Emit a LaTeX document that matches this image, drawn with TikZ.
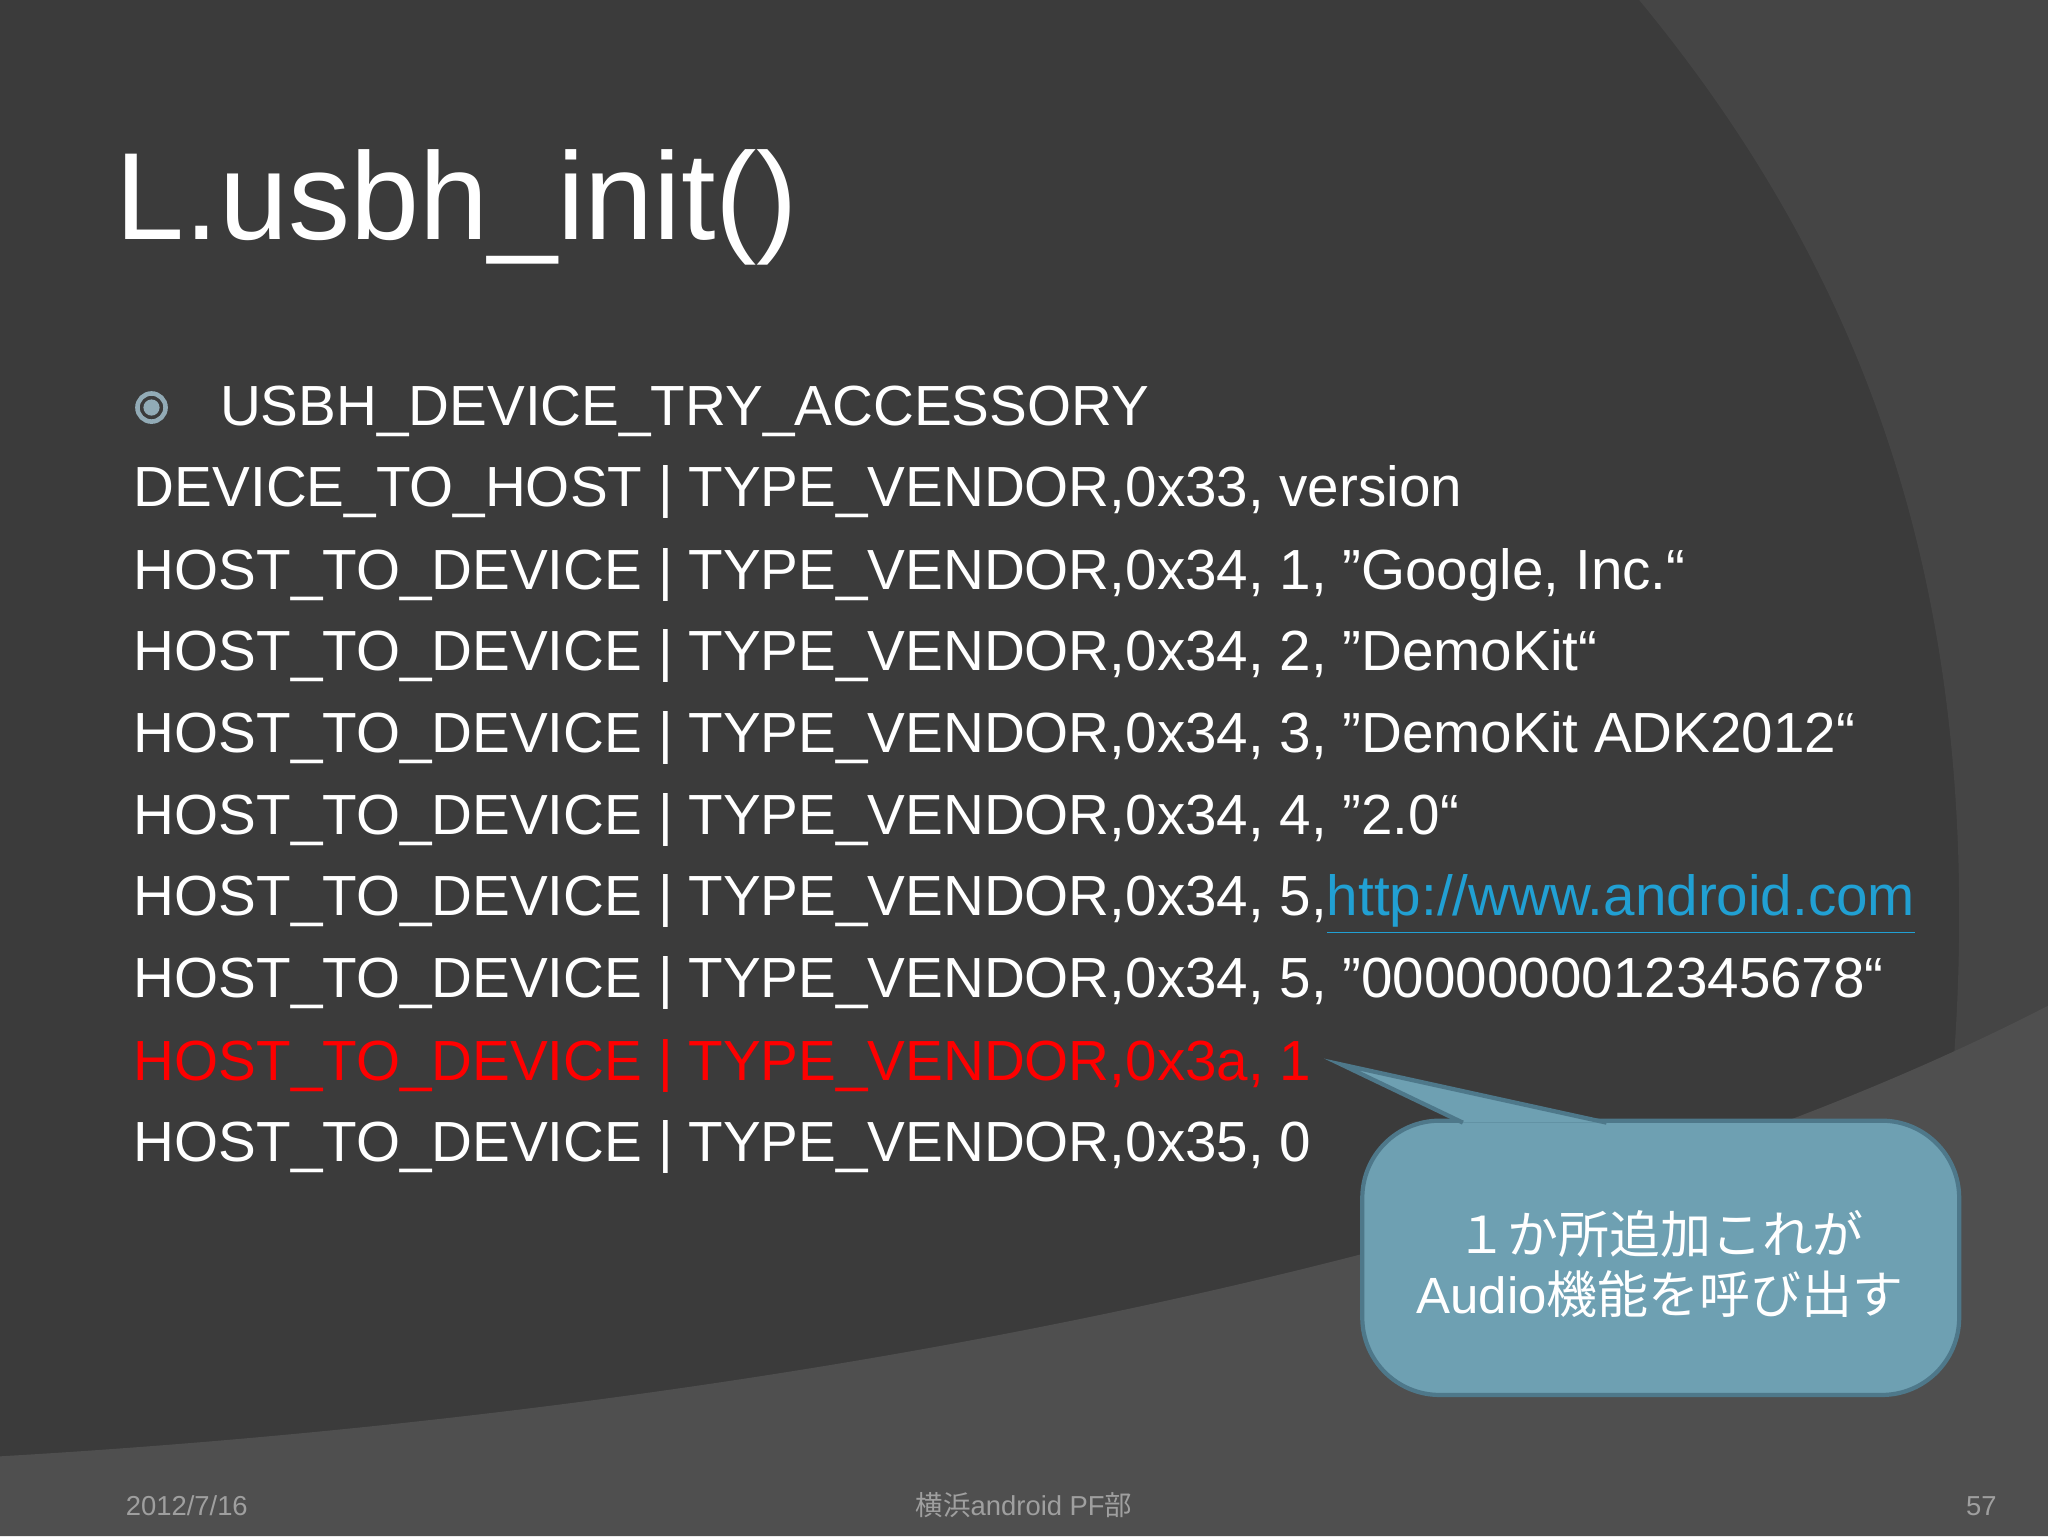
\documentclass[tikz,border=0pt]{standalone}
\usepackage{fontspec}
\setmainfont{Liberation Sans}
\newfontfamily\cjk{Noto Sans CJK JP}
\newcommand\dq{\char34\relax}
\definecolor{cfill}{RGB}{110,160,178}
\definecolor{cline}{RGB}{78,120,138}
\begin{document}
\begin{tikzpicture}[x=0.3716pt,y=-0.3716pt,
  body/.style={anchor=base west,inner sep=0,text=white,font=\fontsize{16.1}{20}\selectfont},
  foot/.style={anchor=base,inner sep=0,text=gray!75,font=\fontsize{7.8}{9}\selectfont}]
\useasboundingbox (0,0) rectangle (1568,1176);
\fill[black!77] (0,0) rectangle (1568,1176);
\fill[black!73] (1255,0) .. controls (1420,200) and (1500,420) .. (1500,700) .. controls (1500,800) and (1490,900) .. (1470,1000) -- (1568,1000) -- (1568,0) -- cycle;
\fill[black!69] (0,1115) .. controls (600,1080) and (1200,960) .. (1568,770) -- (1568,1176) -- (0,1176) -- cycle;
\node[anchor=base west,inner sep=0,text=white,font=\fontsize{35.3}{40}\selectfont] (title) at (88,183) {L.usbh\_init()};
\node[draw=cyan!25!gray!85,line width=1.3pt,circle,minimum size=8pt,inner sep=0] (bul) at (116,312) {};
\fill[cyan!25!gray!85] (bul) circle (2.3pt);
\node[body] (l0) at (168,326) {USBH\_DEVICE\_TRY\_ACCESSORY};
\node[body] (l1) at (102,388) {DEVICE\_TO\_HOST | TYPE\_VENDOR,0x33, version};
\node[body] (l2) at (102,451) {HOST\_TO\_DEVICE | TYPE\_VENDOR,0x34, 1, \dq Google, Inc.“};
\node[body] (l3) at (102,513) {HOST\_TO\_DEVICE | TYPE\_VENDOR,0x34, 2, \dq DemoKit“};
\node[body] (l4) at (102,576) {HOST\_TO\_DEVICE | TYPE\_VENDOR,0x34, 3, \dq DemoKit ADK2012“};
\node[body] (l5) at (102,639) {HOST\_TO\_DEVICE | TYPE\_VENDOR,0x34, 4, \dq 2.0“};
\node[body] (l6) at (102,701) {HOST\_TO\_DEVICE | TYPE\_VENDOR,0x34, 5,\textcolor{cyan!70!teal}{\underline{http://www.android.com}}};
\node[body] (l7) at (102,764) {HOST\_TO\_DEVICE | TYPE\_VENDOR,0x34, 5, \dq 0000000012345678“};
\node[body,text=red] (l8) at (102,827) {HOST\_TO\_DEVICE | TYPE\_VENDOR,0x3a, 1};
\node[body] (l9) at (102,889) {HOST\_TO\_DEVICE | TYPE\_VENDOR,0x35, 0};
\coordinate (tip) at (1027,815);
\draw[fill=cfill,draw=cline,line width=1.2pt,rounded corners=22pt]
  (1043,858) rectangle (1500,1068);
\draw[fill=cfill,draw=cline,line width=1.2pt,line join=miter] (1120,859.5) -- (tip) -- (1230,859.5);
\fill[cfill] (1110,861) rectangle (1240,866);
\node[align=center,text=white,font=\fontsize{14.5}{17}\selectfont,inner sep=0] (call) at (1271,968) {{\cjk １か所追加これが}\\Audio{\cjk 機能を呼び出す}};
\node[foot] (f1) at (143,1160) {2012/7/16};
\node[foot] (f2) at (784,1160) {{\cjk 横浜}android PF{\cjk 部}};
\node[foot] (f3) at (1517,1160) {57};
\end{tikzpicture}
\end{document}
